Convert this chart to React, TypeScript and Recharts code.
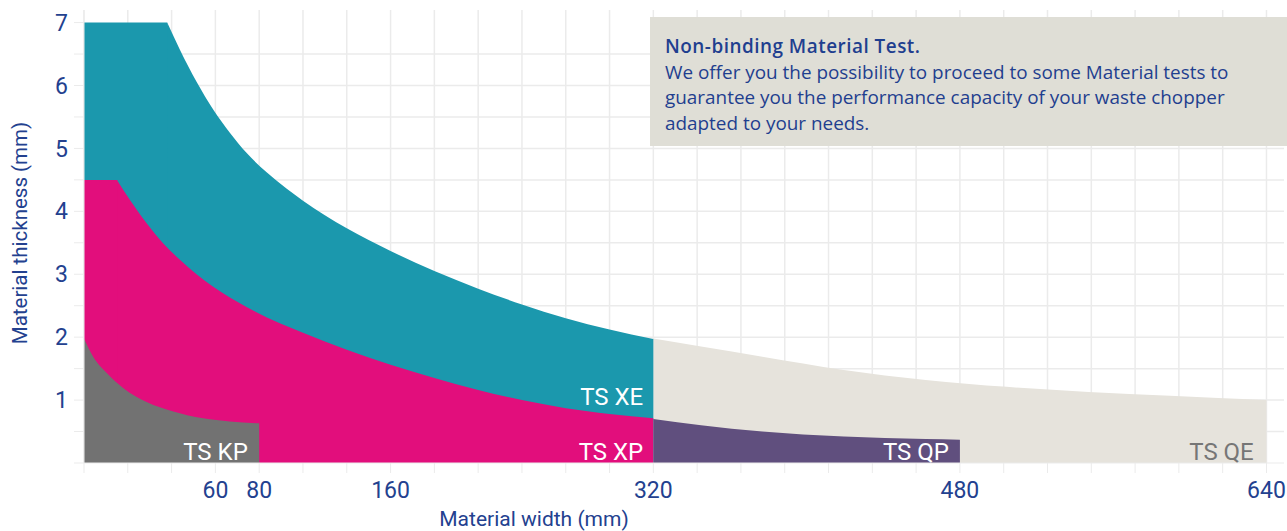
import {
  ComposedChart,
  Area,
  XAxis,
  YAxis,
  CartesianGrid,
  ReferenceDot,
} from "recharts";

// x runs in grid steps (the printed width scale is not linear)
const GRID_STEPS = Array.from({ length: 28 }, (_, i) => i);
const LABEL_STEPS = [3, 4, 7, 13, 20, 27];
const LABEL_WIDTHS = ["60", "80", "160", "320", "480", "640"];

const THICKNESS_TICKS = [0, 0.5, 1, 1.5, 2, 2.5, 3, 3.5, 4, 4.5, 5, 5.5, 6, 6.5, 7];
const GRID_ROWS = [0.5, 1, 1.5, 2, 2.5, 3, 3.5, 4, 4.5, 5, 5.5, 6, 6.5];

// TS XE (flat cap runs a little under the curve so no seam shows)
const xeFlatX = [0, 1.9, 2.2];
const xeFlatY = [7, 7, 6.0];
const xeX = [1.9, 2.19, 2.57, 2.95, 3.33, 3.71, 4.17, 4.63, 5.0, 6.0, 7.0, 8.0, 9.0, 10.0, 11.0, 12.0, 13.0];
const xeY = [7, 6.57, 6.06, 5.62, 5.25, 4.93, 4.62, 4.36, 4.17, 3.73, 3.37, 3.05, 2.77, 2.52, 2.3, 2.12, 1.97];

// TS XP
const xpFlatX = [0, 0.76, 1.0];
const xpFlatY = [4.5, 4.5, 3.9];
const xpX = [0.76, 1.05, 1.43, 1.81, 2.19, 2.95, 3.71, 4.47, 5.0, 6.0, 7.0, 8.0, 9.0, 10.0, 11.0, 12.0, 13.0];
const xpY = [4.49, 4.18, 3.81, 3.49, 3.23, 2.8, 2.48, 2.22, 2.07, 1.8, 1.56, 1.35, 1.16, 1.0, 0.87, 0.78, 0.71];

// TS KP
const kpX = [0, 0.21, 0.52, 0.9, 1.43, 2.04, 2.72, 3.33, 4.0];
const kpY = [1.98, 1.69, 1.43, 1.19, 0.97, 0.82, 0.71, 0.66, 0.63];

// TS QE
const qeX = [13, 14.09, 15.49, 17.35, 19.22, 21.07, 22.94, 24.8, 27];
const qeY = [1.98, 1.85, 1.69, 1.48, 1.32, 1.21, 1.13, 1.07, 1.0];

// TS QP
const qpX = [13, 14.09, 15.49, 17.35, 19.22, 20];
const qpY = [0.7, 0.6, 0.5, 0.42, 0.38, 0.37];

const MODELS = ["TS KP", "TS XE", "TS XP", "TS QP", "TS QE"];
const MODEL_LABEL_X = [3.74, 12.77, 12.77, 19.75, 26.71];
const MODEL_LABEL_Y = [0.18, 1.05, 0.18, 0.18, 0.18];
const MODEL_LABEL_COLOR = ["#ffffff", "#ffffff", "#ffffff", "#ffffff", "#767676"];

const toPoints = (xs: number[], ys: number[]) => xs.map((x, i) => ({ x, v: ys[i] }));

const NAVY = "#23418f";
const GRID = "#ebebeb";
const FONT = "Roboto, sans-serif";

const widthLabel = (step: number) => {
  const i = LABEL_STEPS.indexOf(step);
  return i >= 0 ? LABEL_WIDTHS[i] : "";
};

const App = () => {
  return (
    <div style={{ position: "absolute", left: 0, top: 0, width: 1287, height: 531, background: "#fff" }}>
      <ComposedChart width={1287} height={531} margin={{ top: 10, right: 3, left: 0, bottom: 0 }}>
        <CartesianGrid
          stroke={GRID}
          strokeWidth={1.5}
          horizontalValues={GRID_ROWS}
          verticalValues={GRID_STEPS}
        />
        <XAxis
          type="number"
          dataKey="x"
          domain={[0, 27.4]}
          allowDataOverflow
          ticks={GRID_STEPS}
          interval={0}
          tickFormatter={widthLabel}
          height={68}
          tickSize={10}
          tickMargin={9}
          stroke={GRID}
          tick={{ fill: NAVY, fontSize: 23, fontFamily: FONT }}
          label={{
            content: () => (
              <text x={534} y={526} textAnchor="middle" fill={NAVY} fontSize={21} fontFamily={FONT}>
                Material width (mm)
              </text>
            ),
          }}
        />
        <YAxis
          type="number"
          domain={[0, 7.2]}
          allowDataOverflow
          ticks={THICKNESS_TICKS}
          interval={0}
          tickFormatter={(v: number) => (Number.isInteger(v) && v > 0 ? String(v) : "")}
          width={84}
          tickSize={10}
          tickMargin={6}
          stroke={GRID}
          tick={{ fill: NAVY, fontSize: 23, fontFamily: FONT }}
          label={{
            content: () => (
              <text
                x={27}
                y={233}
                transform="rotate(-90 27 233)"
                textAnchor="middle"
                fill={NAVY}
                fontSize={20.5}
                fontFamily={FONT}
              >
                Material thickness (mm)
              </text>
            ),
          }}
        />
        <Area data={toPoints(qeX, qeY)} dataKey="v" type="monotone" fill="#e6e3dc" fillOpacity={1} stroke="none" isAnimationActive={false} />
        <Area data={toPoints(xeFlatX, xeFlatY)} dataKey="v" type="linear" fill="#1b98ad" fillOpacity={1} stroke="none" isAnimationActive={false} />
        <Area data={toPoints(xeX, xeY)} dataKey="v" type="monotone" fill="#1b98ad" fillOpacity={1} stroke="none" isAnimationActive={false} />
        <Area data={toPoints(xpFlatX, xpFlatY)} dataKey="v" type="linear" fill="#e20e7c" fillOpacity={1} stroke="none" isAnimationActive={false} />
        <Area data={toPoints(xpX, xpY)} dataKey="v" type="monotone" fill="#e20e7c" fillOpacity={1} stroke="none" isAnimationActive={false} />
        <Area data={toPoints(qpX, qpY)} dataKey="v" type="monotone" fill="#604f7e" fillOpacity={1} stroke="none" isAnimationActive={false} />
        <Area data={toPoints(kpX, kpY)} dataKey="v" type="monotone" fill="#727272" fillOpacity={1} stroke="none" isAnimationActive={false} />
        {MODELS.map((name, i) => (
          <ReferenceDot
            key={name}
            x={MODEL_LABEL_X[i]}
            y={MODEL_LABEL_Y[i]}
            r={0}
            fill="none"
            stroke="none"
            label={{
              value: name,
              position: "left",
              offset: 0,
              fill: MODEL_LABEL_COLOR[i],
              fontSize: 24,
              fontFamily: FONT,
            }}
          />
        ))}
      </ComposedChart>
      <div
        style={{
          position: "absolute",
          left: 650,
          top: 17,
          width: 637,
          height: 129,
          background: "#dfded6",
          color: "#1f3f8f",
          fontFamily: "'Open Sans', sans-serif",
          fontSize: 18.9,
          lineHeight: "25.7px",
          padding: "17px 0 0 15px",
          boxSizing: "border-box",
          whiteSpace: "nowrap",
        }}
      >
        <div style={{ fontWeight: 600, letterSpacing: 0.5 }}>Non-binding Material Test.</div>
        <div>We offer you the possibility to proceed to some Material tests to</div>
        <div>guarantee you the performance capacity of your waste chopper</div>
        <div>adapted to your needs.</div>
      </div>
    </div>
  );
};

export default App;
